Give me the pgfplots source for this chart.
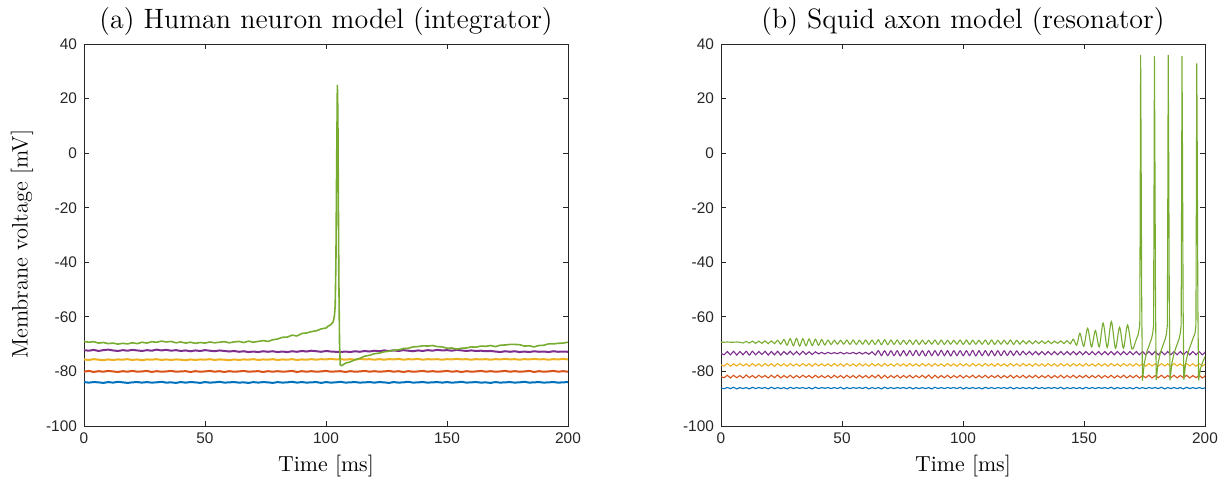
\documentclass[border=0pt]{standalone}
\usepackage{fontspec}
\newfontfamily\ticksf{Liberation Sans}
\usepackage{pgfplots}
\pgfplotsset{compat=1.18}
\usepackage{pgfplotstable}

\definecolor{mblue}{rgb}{0,0.447,0.741}
\definecolor{mred}{rgb}{0.85,0.325,0.098}
\definecolor{myellow}{rgb}{0.929,0.694,0.125}
\definecolor{mpurple}{rgb}{0.494,0.184,0.556}
\definecolor{mgreen}{rgb}{0.466,0.674,0.188}
\definecolor{axgray}{rgb}{0.15,0.15,0.15}

% ---------- (a) human neuron model ----------
\pgfplotstableread{
x b r y p
0 -83.9 -80.1 -75.6 -72.2
2 -84.1 -79.8 -75.8 -72.4
4 -83.9 -80.2 -75.5 -72.1
6 -84.0 -79.9 -75.7 -72.5
8 -84.2 -80.1 -75.9 -72.2
10 -83.9 -79.8 -75.6 -72.0
12 -84.1 -80.0 -75.8 -72.3
14 -83.8 -80.2 -75.6 -72.5
16 -84.0 -79.9 -75.7 -72.2
18 -84.2 -80.1 -75.5 -72.4
20 -84.0 -79.8 -75.8 -72.1
22 -83.9 -80.1 -75.6 -72.3
24 -84.1 -80.0 -75.9 -72.5
26 -83.9 -79.8 -75.6 -72.2
28 -84.1 -80.2 -75.7 -72.4
30 -84.0 -79.9 -75.5 -72.0
32 -83.8 -80.1 -75.8 -72.3
34 -84.1 -80.0 -75.6 -72.1
36 -84.0 -79.8 -75.8 -72.4
38 -84.2 -80.1 -75.6 -72.2
40 -83.9 -80.0 -75.7 -72.5
42 -84.1 -79.9 -75.9 -72.3
44 -83.9 -80.2 -75.6 -72.6
46 -84.0 -79.9 -75.8 -72.3
48 -84.2 -80.1 -75.6 -72.5
50 -83.9 -80.0 -75.7 -72.2
52 -84.1 -79.8 -75.5 -72.4
54 -84.0 -80.1 -75.8 -72.6
56 -83.8 -79.9 -75.6 -72.3
58 -84.1 -80.2 -75.7 -72.5
60 -84.0 -79.9 -75.9 -72.7
62 -83.9 -80.1 -75.6 -72.5
64 -84.1 -80.0 -75.8 -72.8
66 -84.0 -79.8 -75.6 -72.6
68 -84.2 -80.1 -75.7 -72.9
70 -83.9 -80.0 -75.5 -72.7
72 -84.1 -79.9 -75.8 -72.9
74 -83.9 -80.2 -75.6 -72.6
76 -84.0 -79.9 -75.7 -72.8
78 -84.2 -80.1 -75.5 -72.6
80 -83.9 -79.9 -75.8 -72.9
82 -84.1 -80.1 -75.6 -72.7
84 -84.0 -80.0 -75.7 -72.9
86 -83.8 -79.8 -75.5 -72.6
88 -84.1 -80.2 -75.8 -72.8
90 -83.9 -79.9 -75.6 -72.5
92 -84.1 -80.1 -75.7 -72.7
94 -84.0 -79.9 -75.5 -72.4
96 -83.9 -80.1 -75.7 -72.6
98 -84.2 -80.0 -75.5 -72.8
100 -83.9 -79.8 -75.6 -72.5
102 -84.1 -80.1 -75.4 -72.7
104 -84.0 -80.0 -75.6 -72.8
106 -83.8 -79.9 -75.5 -72.9
108 -84.1 -80.2 -75.7 -72.7
110 -84.0 -79.9 -75.5 -72.9
112 -83.9 -80.1 -75.7 -72.6
114 -84.1 -80.0 -75.4 -72.8
116 -84.0 -79.8 -75.6 -72.5
118 -83.9 -80.1 -75.5 -72.7
120 -84.1 -79.9 -75.7 -72.4
122 -83.9 -80.1 -75.5 -72.6
124 -84.0 -80.0 -75.7 -72.3
126 -84.2 -79.8 -75.5 -72.5
128 -83.9 -80.1 -75.6 -72.3
130 -84.1 -79.9 -75.4 -72.5
132 -84.0 -80.2 -75.7 -72.2
134 -83.8 -79.9 -75.5 -72.4
136 -84.1 -80.1 -75.6 -72.6
138 -84.0 -80.0 -75.4 -72.3
140 -83.9 -79.8 -75.7 -72.5
142 -84.1 -80.1 -75.5 -72.2
144 -84.0 -79.9 -75.6 -72.4
146 -83.9 -80.1 -75.5 -72.1
148 -84.1 -80.0 -75.7 -72.3
150 -83.9 -79.8 -75.5 -72.2
152 -84.1 -80.1 -75.6 -72.4
154 -84.0 -79.9 -75.4 -72.1
156 -83.8 -80.2 -75.6 -72.3
158 -84.1 -79.9 -75.5 -72.5
160 -84.0 -80.1 -75.7 -72.3
162 -83.9 -80.0 -75.5 -72.5
164 -84.1 -79.8 -75.6 -72.4
166 -84.0 -80.1 -75.5 -72.6
168 -84.2 -79.9 -75.7 -72.5
170 -83.9 -80.1 -75.5 -72.7
172 -84.1 -80.0 -75.6 -72.9
174 -84.0 -79.8 -75.4 -72.6
176 -83.9 -80.1 -75.6 -72.8
178 -84.1 -79.9 -75.5 -72.6
180 -84.0 -80.1 -75.7 -72.9
182 -83.8 -80.0 -75.5 -72.7
184 -84.1 -79.8 -75.6 -72.9
186 -84.0 -80.2 -75.4 -72.6
188 -83.9 -79.9 -75.6 -72.8
190 -84.1 -80.1 -75.5 -72.7
192 -84.0 -80.0 -75.7 -72.9
194 -83.9 -79.8 -75.5 -72.6
196 -84.1 -80.1 -75.6 -72.8
198 -84.0 -79.9 -75.4 -72.7
200 -83.9 -80.1 -75.6 -72.8
}\leftdata

\pgfplotstableread{
x g
0 -69.0
2 -69.3
4 -69.1
6 -69.6
8 -69.4
10 -69.8
12 -69.6
14 -70.0
16 -69.7
18 -69.9
20 -69.5
22 -69.8
24 -69.3
26 -69.6
28 -69.1
30 -69.3
32 -68.9
34 -69.2
36 -69.0
38 -69.5
40 -69.2
42 -69.6
44 -69.3
46 -69.7
48 -69.4
50 -69.6
52 -69.2
54 -69.5
56 -69.3
58 -69.1
60 -69.5
62 -69.2
64 -69.0
66 -69.4
68 -68.9
70 -69.3
72 -69.0
74 -68.7
76 -69.0
78 -68.4
80 -68.1
82 -67.5
84 -67.4
86 -66.7
88 -67.0
90 -66.1
92 -65.9
94 -65.4
96 -65.1
98 -64.4
100 -64.1
101 -63.3
102 -62.9
103 -61.8
103.5 -59.5
103.8 -56
104.1 -40
104.4 -5
104.7 25
104.9 15
105.1 -15
105.3 -45
105.6 -70
105.9 -77.6
106.5 -77.9
108 -77.0
110 -76.5
112 -75.7
114 -75.2
116 -74.4
118 -74.1
120 -73.5
122 -73.3
124 -72.8
126 -72.6
128 -72.2
130 -72.1
132 -71.6
134 -71.5
136 -71.0
138 -70.9
140 -70.6
142 -70.7
144 -70.5
146 -70.9
148 -71.0
150 -71.5
152 -71.4
154 -71.8
156 -71.5
158 -71.4
160 -71.0
162 -71.1
164 -70.7
166 -70.8
168 -70.5
170 -70.9
172 -70.4
174 -70.3
176 -70.1
178 -70.1
180 -70.2
182 -70.7
184 -70.6
186 -71.0
188 -70.5
190 -70.4
192 -69.9
194 -69.9
196 -69.7
198 -69.6
200 -69.3
}\leftgreen

% ---------- (b) squid axon model ----------
\pgfplotstableread{
x b r y p
0 -86.1 -81.9 -77.6 -73.3
1.3 -86.3 -82.3 -78.0 -73.9
2.6 -85.9 -81.4 -77.1 -72.7
3.9 -86.3 -82.4 -78.1 -73.9
5.2 -85.8 -81.4 -77.2 -72.6
6.5 -86.4 -82.3 -78.0 -74.0
7.8 -85.9 -81.5 -77.1 -72.7
9.1 -86.3 -82.4 -78.0 -73.9
10.4 -85.9 -81.3 -77.2 -72.6
11.7 -86.4 -82.3 -78.1 -74.0
13 -85.8 -81.5 -77.1 -72.6
14.3 -86.3 -82.4 -78.0 -73.9
15.6 -85.9 -81.4 -77.2 -72.7
16.9 -86.2 -82.2 -78.1 -73.8
18.2 -85.9 -81.5 -77.1 -72.6
19.5 -86.4 -82.4 -78.0 -74.0
20.8 -85.8 -81.4 -77.2 -72.7
22.1 -86.3 -82.3 -78.1 -73.9
23.4 -85.9 -81.3 -77.1 -72.6
24.7 -86.3 -82.4 -78.0 -74.0
26 -85.9 -81.5 -77.2 -72.7
27.3 -86.4 -82.3 -78.1 -73.8
28.6 -85.8 -81.4 -77.1 -72.6
29.9 -86.3 -82.4 -78.0 -73.9
31.2 -85.9 -81.5 -77.2 -72.7
32.5 -86.2 -82.3 -78.1 -73.9
33.8 -85.9 -81.4 -77.1 -72.6
35.1 -86.3 -82.2 -78.0 -73.8
36.4 -85.9 -81.5 -77.2 -72.8
37.7 -86.4 -82.4 -78.1 -73.8
39 -85.8 -81.4 -77.1 -72.8
40.3 -86.3 -82.3 -78.0 -73.6
41.6 -85.9 -81.5 -77.2 -73.0
42.9 -86.2 -82.3 -78.0 -73.6
44.2 -85.9 -81.5 -77.2 -73.0
45.5 -86.3 -82.4 -78.1 -73.5
46.8 -85.9 -81.4 -77.1 -73.1
48.1 -86.3 -82.3 -78.0 -73.5
49.4 -85.8 -81.5 -77.2 -73.0
50.7 -86.4 -82.4 -78.1 -73.6
52 -85.9 -81.4 -77.1 -73.1
53.3 -86.3 -82.3 -78.0 -73.5
54.6 -85.9 -81.5 -77.2 -73.0
55.9 -86.2 -82.4 -78.1 -73.6
57.2 -85.9 -81.4 -77.1 -73.0
58.5 -86.3 -82.3 -78.0 -73.6
59.8 -85.8 -81.5 -77.2 -73.0
61.1 -86.4 -82.4 -78.1 -73.7
62.4 -85.9 -81.4 -77.1 -72.8
63.7 -86.3 -82.3 -78.0 -74.0
65 -85.9 -81.3 -77.2 -72.4
66.3 -86.4 -82.5 -78.1 -74.2
67.6 -85.8 -81.4 -77.1 -72.4
68.9 -86.3 -82.4 -78.0 -74.2
70.2 -85.9 -81.5 -77.2 -72.4
71.5 -86.3 -82.3 -78.1 -74.2
72.8 -85.9 -81.4 -77.1 -72.4
74.1 -86.2 -82.4 -78.0 -74.3
75.4 -85.9 -81.5 -77.2 -72.4
76.7 -86.3 -82.3 -78.1 -74.2
78 -85.8 -81.4 -77.1 -72.4
79.3 -86.4 -82.4 -78.0 -74.2
80.6 -85.9 -81.5 -77.2 -72.3
81.9 -86.3 -82.3 -78.1 -74.2
83.2 -85.9 -81.4 -77.1 -72.4
84.5 -86.3 -82.4 -78.0 -74.3
85.8 -85.9 -81.3 -77.2 -72.4
87.1 -86.4 -82.5 -78.1 -74.2
88.4 -85.8 -81.4 -77.1 -72.4
89.7 -86.3 -82.4 -78.0 -74.2
91 -85.9 -81.5 -77.2 -72.3
92.3 -86.3 -82.3 -78.1 -74.2
93.6 -85.9 -81.4 -77.1 -72.4
94.9 -86.2 -82.4 -78.0 -74.3
96.2 -85.9 -81.5 -77.2 -72.4
97.5 -86.3 -82.3 -78.1 -74.2
98.8 -85.8 -81.4 -77.1 -72.4
100.1 -86.4 -82.4 -78.0 -74.2
101.4 -85.9 -81.5 -77.2 -72.4
102.7 -86.3 -82.3 -78.1 -74.2
104 -85.9 -81.4 -77.1 -72.3
105.3 -86.3 -82.4 -78.0 -74.3
106.6 -85.9 -81.5 -77.2 -72.4
107.9 -86.4 -82.3 -78.1 -74.2
109.2 -85.8 -81.4 -77.1 -72.4
110.5 -86.3 -82.4 -78.0 -74.2
111.8 -85.9 -81.5 -77.2 -72.4
113.1 -86.3 -82.3 -78.1 -74.2
114.4 -85.9 -81.4 -77.1 -72.4
115.7 -86.2 -82.4 -78.0 -74.2
117 -85.9 -81.5 -77.2 -72.4
118.3 -86.3 -82.3 -78.1 -74.1
119.6 -85.8 -81.4 -77.1 -72.5
120.9 -86.4 -82.4 -78.0 -74.1
122.2 -85.9 -81.5 -77.2 -72.5
123.5 -86.3 -82.3 -78.1 -74.0
124.8 -85.9 -81.4 -77.1 -72.6
126.1 -86.3 -82.4 -78.0 -73.9
127.4 -85.9 -81.5 -77.2 -72.7
128.7 -86.4 -82.3 -78.1 -73.9
130 -85.8 -81.4 -77.1 -72.7
131.3 -86.3 -82.4 -78.0 -73.9
132.6 -85.9 -81.5 -77.2 -72.7
133.9 -86.3 -82.3 -78.1 -73.9
135.2 -85.9 -81.4 -77.1 -72.7
136.5 -86.2 -82.4 -78.0 -73.9
137.8 -85.9 -81.5 -77.2 -72.7
139.1 -86.3 -82.3 -78.1 -73.9
140.4 -85.8 -81.4 -77.1 -72.7
141.7 -86.4 -82.4 -78.0 -73.9
143 -85.9 -81.5 -77.2 -72.7
144.3 -86.3 -82.3 -78.1 -73.9
145.6 -85.9 -81.4 -77.1 -72.7
146.9 -86.3 -82.4 -78.0 -73.9
148.2 -85.9 -81.5 -77.2 -72.7
149.5 -86.4 -82.3 -78.1 -73.9
150.8 -85.8 -81.4 -77.1 -72.7
152.1 -86.3 -82.4 -78.0 -73.9
153.4 -85.9 -81.5 -77.2 -72.7
154.7 -86.3 -82.3 -78.1 -73.9
156 -85.9 -81.4 -77.1 -72.7
157.3 -86.2 -82.4 -78.0 -73.9
158.6 -85.9 -81.5 -77.2 -72.7
159.9 -86.3 -82.3 -78.1 -73.9
161.2 -85.8 -81.4 -77.1 -72.7
162.5 -86.4 -82.4 -78.0 -73.9
163.8 -85.9 -81.5 -77.2 -72.7
165.1 -86.3 -82.3 -78.1 -73.9
166.4 -85.9 -81.4 -77.1 -72.7
167.7 -86.3 -82.4 -78.0 -73.9
169 -85.9 -81.5 -77.2 -72.7
170.3 -86.4 -82.3 -78.1 -73.9
171.6 -85.8 -81.4 -77.1 -72.7
172.9 -86.3 -82.4 -78.0 -73.9
174.2 -85.9 -81.5 -77.2 -72.7
175.5 -86.3 -82.3 -78.1 -73.9
176.8 -85.9 -81.4 -77.1 -72.7
178.1 -86.2 -82.4 -78.0 -73.9
179.4 -85.9 -81.5 -77.2 -72.7
180.7 -86.3 -82.3 -78.1 -73.9
182 -85.8 -81.4 -77.1 -72.7
183.3 -86.4 -82.4 -78.0 -73.9
184.6 -85.9 -81.5 -77.2 -72.7
185.9 -86.3 -82.3 -78.1 -73.9
187.2 -85.9 -81.4 -77.1 -72.7
188.5 -86.3 -82.4 -78.0 -73.9
189.8 -85.9 -81.5 -77.2 -72.7
191.1 -86.4 -82.3 -78.1 -73.9
192.4 -85.8 -81.4 -77.1 -72.7
193.7 -86.3 -82.4 -78.0 -73.9
195 -85.9 -81.5 -77.2 -72.7
196.3 -86.3 -82.3 -78.1 -73.9
197.6 -85.9 -81.4 -77.1 -72.7
198.9 -86.3 -82.4 -78.0 -73.9
200.2 -85.9 -81.5 -77.2 -72.7
}\rightdata

% green, sub-threshold oscillations (smooth part)
\pgfplotstableread{
x g
0 -69.3
1.3 -69.3
2.6 -69.2
3.9 -69.3
5.2 -69.3
6.5 -69.2
7.8 -69.3
9.1 -69.6
10.4 -69.0
11.7 -69.6
13 -68.9
14.3 -69.7
15.6 -68.9
16.9 -69.7
18.2 -68.8
19.5 -69.8
20.8 -68.8
22.1 -69.8
23.4 -68.6
24.7 -70.0
26 -68.3
27.3 -70.4
28.6 -68.0
29.9 -70.6
31.2 -67.9
32.5 -70.7
33.8 -68.0
35.1 -70.6
36.4 -68.1
37.7 -70.5
39 -68.2
40.3 -70.4
41.6 -68.3
42.9 -70.3
44.2 -68.5
45.5 -70.1
46.8 -68.6
48.1 -70.0
49.4 -68.6
50.7 -70.0
52 -68.5
53.3 -70.1
54.6 -68.5
55.9 -70.1
57.2 -68.6
58.5 -70.0
59.8 -68.5
61.1 -70.1
62.4 -68.5
63.7 -70.1
65 -68.4
66.3 -70.2
67.6 -68.4
68.9 -70.2
70.2 -68.5
71.5 -70.1
72.8 -68.5
74.1 -70.1
75.4 -68.6
76.7 -70.0
78 -68.5
79.3 -70.1
80.6 -68.5
81.9 -70.1
83.2 -68.6
84.5 -70.0
85.8 -68.6
87.1 -70.0
88.4 -68.5
89.7 -70.1
91 -68.5
92.3 -70.1
93.6 -68.6
94.9 -70.0
96.2 -68.6
97.5 -70.0
98.8 -68.5
100.1 -70.1
101.4 -68.5
102.7 -70.1
104 -68.6
105.3 -70.0
106.6 -68.6
107.9 -70.0
109.2 -68.5
110.5 -70.1
111.8 -68.5
113.1 -70.1
114.4 -68.6
115.7 -70.0
117 -68.6
118.3 -70.0
119.6 -68.5
120.9 -70.1
122.2 -68.6
123.5 -70.0
124.8 -68.7
126.1 -69.9
127.4 -68.7
128.7 -69.9
130 -68.8
131.3 -69.8
132.6 -68.8
133.9 -69.8
135.2 -68.8
136.5 -69.8
137.8 -68.9
139.1 -69.7
140.4 -68.8
141.7 -69.8
143 -68.7
144.3 -69.9
145.6 -68.2
147 -70.4
148.3 -66.0
149.9 -70.8
151.5 -64.2
153.1 -71.0
154.7 -65.0
156.3 -71.0
157.9 -62.3
159.6 -71.2
161.3 -61.7
163.0 -71.5
164.7 -63.8
166.3 -71.5
168.0 -63.0
169.8 -71.8
171.3 -69.0
}\rightgreenA

% green, spiking part (no smoothing)
\pgfplotstableread{
x g
171.3 -69.0
172.4 -66.5
173.05 -63
173.25 -10
173.4 36
173.6 0
173.85 -55
174.15 -83.4
174.9 -77
175.9 -73
176.9 -70.5
177.9 -68
178.4 -66
178.75 -63
178.95 -10
179.1 35.6
179.3 0
179.55 -55
179.85 -83.2
180.6 -77
181.6 -73
182.6 -70.5
183.6 -68
184.1 -66
184.45 -63
184.65 -10
184.8 36
185.0 0
185.25 -55
185.55 -83.3
186.3 -77
187.3 -73
188.3 -70.5
189.3 -68
189.8 -66
190.15 -63
190.35 -10
190.5 35.6
190.7 0
190.95 -55
191.25 -83.2
192.0 -77
193.0 -73
194.0 -70.5
195.0 -68
195.9 -66
196.25 -63
196.45 -10
196.6 32.9
196.8 0
197.05 -55
197.35 -83.3
198.1 -79
199.1 -76.5
200 -74.6
}\rightgreenB

\pgfplotsset{
  mstyle/.style={
    scale only axis,
    width=242pt, height=191pt,
    xmin=0, xmax=200, ymin=-100, ymax=40,
    xtick={0,50,100,150,200},
    xticklabels={0,50,100,150,200},
    ytick={-100,-80,-60,-40,-20,0,20,40},
    yticklabels={-100,-80,-60,-40,-20,0,20,40},
    tick align=inside,
    major tick length=2.5pt,
    axis line style={axgray, line width=0.45pt},
    tick style={axgray, line width=0.45pt},
    ticklabel style={font=\ticksf\fontsize{7.7}{9}\selectfont, text=axgray},
    every axis title/.style={font=\fontsize{14}{16}\selectfont, at={(axis description cs:0.5,1.06)}, anchor=center},
    xlabel style={font=\fontsize{10.9}{13}\selectfont, at={(axis description cs:0.5,-0.105)}, anchor=center},
    ylabel style={font=\fontsize{11.2}{13}\selectfont, at={(axis description cs:-0.128,0.476)}, anchor=center},
    clip=true,
  }
}

\begin{document}
\begin{tikzpicture}
\useasboundingbox (-42pt,-29pt) rectangle (574pt,213pt);
\begin{axis}[mstyle, at={(0pt,0pt)}, anchor=south west,
  title={(a) Human neuron model (integrator)},
  xlabel={Time [ms]}, ylabel={Membrane voltage [mV]}]
\addplot[mblue, line width=1pt] table[x=x, y=b] {\leftdata};
\addplot[mred, line width=1pt] table[x=x, y=r] {\leftdata};
\addplot[myellow, line width=1pt] table[x=x, y=y] {\leftdata};
\addplot[mpurple, line width=1pt] table[x=x, y=p] {\leftdata};
\addplot[mgreen, line width=0.8pt] table[x=x, y=g] {\leftgreen};
\end{axis}
\begin{axis}[mstyle, at={(318.5pt,0pt)}, anchor=south west,
  title={(b) Squid axon model (resonator)},
  xlabel={Time [ms]}]
\addplot[mblue, line width=0.55pt, smooth] table[x=x, y=b] {\rightdata};
\addplot[mred, line width=0.55pt, smooth] table[x=x, y=r] {\rightdata};
\addplot[myellow, line width=0.55pt, smooth] table[x=x, y=y] {\rightdata};
\addplot[mpurple, line width=0.55pt, smooth] table[x=x, y=p] {\rightdata};
\addplot[mgreen, line width=0.55pt, smooth] table[x=x, y=g] {\rightgreenA};
\addplot[mgreen, line width=0.55pt] table[x=x, y=g] {\rightgreenB};
\end{axis}
\end{tikzpicture}
\end{document}
